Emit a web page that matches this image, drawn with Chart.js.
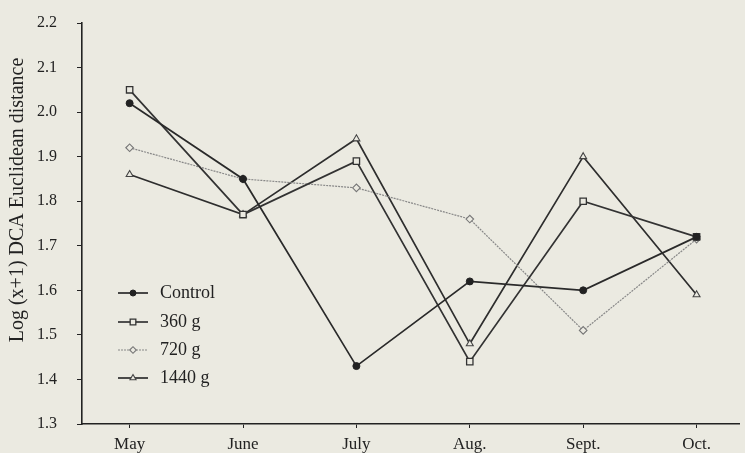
<!DOCTYPE html>
<html>
<head>
<meta charset="utf-8">
<script src="https://cdn.jsdelivr.net/npm/chart.js@4.4.1/dist/chart.umd.min.js"></script>
<style>
  html, body { margin: 0; padding: 0; background: #ebeae1; }
  #wrap { width: 745px; height: 453px; position: relative; }
</style>
</head>
<body>
<div id="wrap"><canvas id="c" width="745" height="453"></canvas></div>
<script>
const months = ["May", "June", "July", "Aug.", "Sept.", "Oct."];
const control = [2.02, 1.85, 1.43, 1.62, 1.60, 1.72];
const g360 = [2.05, 1.77, 1.89, 1.44, 1.80, 1.72];
const g720 = [1.92, 1.85, 1.83, 1.76, 1.51, 1.715];
const g1440 = [1.86, 1.77, 1.94, 1.48, 1.90, 1.59];
const yTicks = [1.3, 1.4, 1.5, 1.6, 1.7, 1.8, 1.9, 2.0, 2.1, 2.2];
const yTitle = "Log (x+1) DCA Euclidean distance";

const BG = '#ebeae1';
const SERIF = '"Liberation Serif", "DejaVu Serif", serif';
const pts = arr => arr.map((v, i) => ({ x: i, y: v }));

const datasets = [
  { label: 'Control', data: pts(control), borderColor: '#2a2a2a', borderWidth: 1.7,
    pointStyle: 'circle', pointRadius: 3.5, pointBackgroundColor: '#222', pointBorderColor: '#222', pointBorderWidth: 1 },
  { label: '360 g', data: pts(g360), borderColor: '#333', borderWidth: 1.7,
    pointStyle: 'rect', pointRadius: 4.5, pointBackgroundColor: BG, pointBorderColor: '#333', pointBorderWidth: 1.3 },
  { label: '720 g', data: pts(g720), borderColor: '#888', borderWidth: 1.2, borderDash: [2, 1],
    pointStyle: 'rectRot', pointRadius: 3.8, pointBackgroundColor: BG, pointBorderColor: '#777', pointBorderWidth: 1.1 },
  { label: '1440 g', data: pts(g1440), borderColor: '#2e2e2e', borderWidth: 1.7,
    pointStyle: 'triangle', pointRadius: 4, pointBackgroundColor: BG, pointBorderColor: '#444', pointBorderWidth: 1.1 }
];
datasets.forEach(d => { d.fill = false; d.tension = 0; d.pointHoverRadius = d.pointRadius; });

const legendPlugin = {
  id: 'insideLegend',
  afterDatasetsDraw(chart) {
    const ctx = chart.ctx;
    const x0 = 118, x1 = 148, xm = 133, xt = 160;
    const ys = [293, 322, 350, 378];
    chart.data.datasets.forEach((ds, i) => {
      const y = ys[i];
      ctx.save();
      ctx.strokeStyle = ds.borderColor;
      ctx.lineWidth = ds.borderWidth;
      if (ds.borderDash) ctx.setLineDash(ds.borderDash);
      ctx.beginPath(); ctx.moveTo(x0, y); ctx.lineTo(x1, y); ctx.stroke();
      ctx.setLineDash([]);
      ctx.fillStyle = ds.pointBackgroundColor;
      ctx.strokeStyle = ds.pointBorderColor;
      ctx.lineWidth = ds.pointBorderWidth;
      Chart.helpers.drawPoint(ctx, { pointStyle: ds.pointStyle, radius: ds.pointRadius - 0.5, borderWidth: ds.pointBorderWidth }, xm, y);
      ctx.fillStyle = '#222';
      ctx.font = '18px ' + SERIF;
      ctx.textBaseline = 'middle';
      ctx.textAlign = 'left';
      ctx.fillText(ds.label, xt, y);
      ctx.restore();
    });
    // y-axis title
    ctx.save();
    ctx.translate(18, 200);
    ctx.rotate(-Math.PI / 2);
    ctx.fillStyle = '#222';
    ctx.font = '20px ' + SERIF;
    ctx.textAlign = 'center';
    ctx.textBaseline = 'middle';
    ctx.fillText(yTitle, 0, 0);
    ctx.restore();
  }
};

const bgPlugin = {
  id: 'bg',
  beforeDraw(chart) {
    const ctx = chart.ctx;
    ctx.save(); ctx.fillStyle = BG; ctx.fillRect(0, 0, chart.width, chart.height); ctx.restore();
  }
};

new Chart(document.getElementById('c'), {
  type: 'line',
  data: { datasets },
  plugins: [bgPlugin, legendPlugin],
  options: {
    responsive: false,
    animation: false,
    events: [],
    layout: { padding: { top: 23, right: 0, left: 37, bottom: 0 } },
    plugins: { legend: { display: false }, tooltip: { enabled: false } },
    scales: {
      x: {
        type: 'linear',
        min: -0.42, max: 5.376,
        afterBuildTicks: s => { s.ticks = months.map((m, i) => ({ value: i })); },
        afterFit: s => { s.height = 29; },
        grid: { drawOnChartArea: false, drawTicks: true, tickLength: 4, color: '#222', lineWidth: 1 },
        border: { display: true, color: '#222', width: 1.6 },
        ticks: { callback: v => months[v] ?? '', color: '#222', font: { family: SERIF, size: 17 }, padding: 6, maxRotation: 0, autoSkip: false }
      },
      y: {
        min: 1.3, max: 2.2,
        afterBuildTicks: s => { s.ticks = yTicks.map(v => ({ value: v })); },
        afterFit: s => { s.width = 45; },
        grid: { drawOnChartArea: false, drawTicks: true, tickLength: 5, color: '#222', lineWidth: 1 },
        border: { display: true, color: '#222', width: 1.6 },
        ticks: { callback: v => v.toFixed(1), color: '#222', font: { family: SERIF, size: 16 }, padding: 2, crossAlign: 'far' },
        title: { display: false }
      }
    }
  }
});
</script>
</body>
</html>
